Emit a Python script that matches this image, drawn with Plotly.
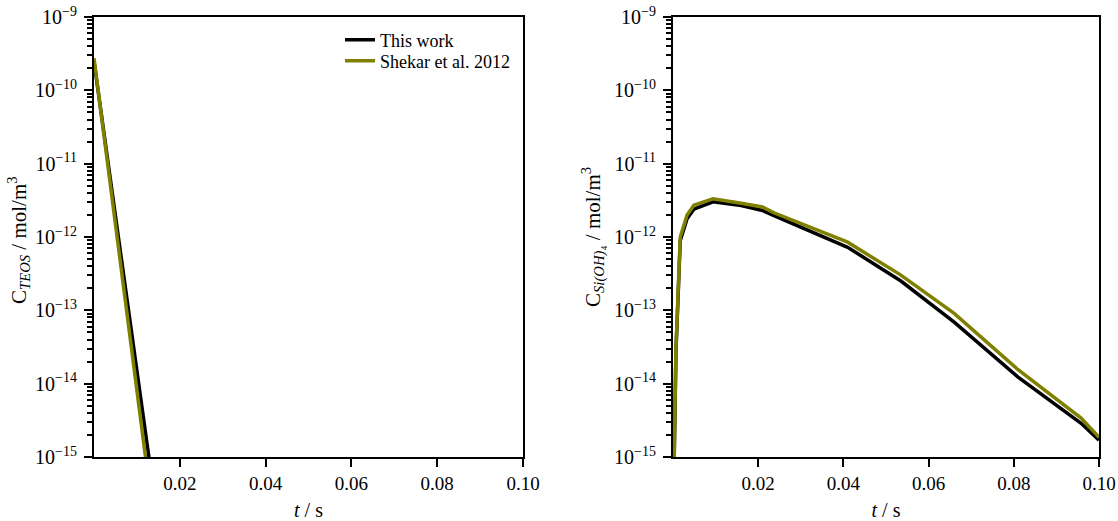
import plotly.graph_objects as go

# ---- data ----
teos_t_this = [0.0, 0.002, 0.004, 0.006, 0.008, 0.010, 0.012, 0.014]
teos_c_this = [2.5e-10, 3.6e-11, 5.1e-12, 7.4e-13, 1.05e-13, 1.5e-14, 2.2e-15, 3.1e-16]
teos_t_shekar = [0.0, 0.002, 0.004, 0.006, 0.008, 0.010, 0.012, 0.014]
teos_c_shekar = [2.75e-10, 3.4e-11, 4.3e-12, 5.2e-13, 6.5e-14, 8.1e-15, 1.0e-15, 1.25e-16]

si_t_this = [0.0002, 0.0007, 0.0017, 0.0033, 0.0049, 0.0094, 0.016, 0.021, 0.0237, 0.041,
             0.0535, 0.066, 0.081, 0.0958, 0.1]
si_c_this = [5e-16, 2.8e-14, 8.9e-13, 1.78e-12, 2.4e-12, 3.02e-12, 2.69e-12, 2.3e-12, 1.95e-12,
             7.24e-13, 2.51e-13, 6.9e-14, 1.23e-14, 2.88e-15, 1.70e-15]
si_t_shekar = [0.0002, 0.0007, 0.0017, 0.0033, 0.0049, 0.0094, 0.016, 0.021, 0.0237, 0.041,
               0.0535, 0.066, 0.081, 0.0958, 0.1]
si_c_shekar = [5e-16, 3.1e-14, 1.0e-12, 2.0e-12, 2.72e-12, 3.31e-12, 2.88e-12, 2.57e-12, 2.14e-12,
               8.5e-13, 3.02e-13, 9.1e-14, 1.55e-14, 3.39e-15, 1.86e-15]

x_ticks = [0.02, 0.04, 0.06, 0.08, 0.10]
x_ticktext = ["0.02", "0.04", "0.06", "0.08", "0.10"]
y_exps = [-15, -14, -13, -12, -11, -10, -9]

BLACK = "#000000"
OLIVE = "#808000"
FONT = "Liberation Serif"

major_vals = [10.0 ** e for e in y_exps]
major_text = ["10<sup>\u2212%d</sup>" % (-e) for e in y_exps]
minor_vals = [m * 10.0 ** e for e in y_exps[:-1] for m in range(2, 10)]
all_vals = major_vals + minor_vals
all_text = major_text + [""] * len(minor_vals)

fig = go.Figure()
fig.add_trace(go.Scatter(x=teos_t_this, y=teos_c_this, mode="lines", name="This work",
                         line=dict(color=BLACK, width=3.5), xaxis="x", yaxis="y",
                         legend="legend"))
fig.add_trace(go.Scatter(x=teos_t_shekar, y=teos_c_shekar, mode="lines", name="Shekar et al. 2012",
                         line=dict(color=OLIVE, width=3.5), xaxis="x", yaxis="y",
                         legend="legend2"))
fig.add_trace(go.Scatter(x=si_t_this, y=si_c_this, mode="lines", showlegend=False,
                         line=dict(color=BLACK, width=3.5), xaxis="x2", yaxis="y2"))
fig.add_trace(go.Scatter(x=si_t_shekar, y=si_c_shekar, mode="lines", showlegend=False,
                         line=dict(color=OLIVE, width=3.5), xaxis="x2", yaxis="y2"))
# empty traces binding the major-tick overlay axes
fig.add_trace(go.Scatter(x=[], y=[], showlegend=False, xaxis="x", yaxis="y3"))
fig.add_trace(go.Scatter(x=[], y=[], showlegend=False, xaxis="x2", yaxis="y4"))

xcommon = dict(range=[0, 0.1], tickvals=x_ticks, ticktext=x_ticktext, ticks="outside",
               ticklen=8, tickwidth=2, tickcolor=BLACK, showline=True, linewidth=2,
               linecolor=BLACK, mirror=True, showgrid=False, zeroline=False,
               ticklabelstandoff=0, automargin=False,
               tickfont=dict(family=FONT, size=19, color=BLACK),
               title=dict(text="<i>t</i> / s", font=dict(family=FONT, size=20, color=BLACK),
                          standoff=12))
ycommon = dict(type="log", range=[-15, -9], tickvals=all_vals, ticktext=all_text,
               ticks="outside", ticklen=5, tickwidth=1.8, tickcolor=BLACK, showline=True,
               linewidth=2, linecolor=BLACK, mirror=True, showgrid=False, zeroline=False,
               ticklabelstandoff=6, automargin=False,
               tickfont=dict(family=FONT, size=20, color=BLACK))
ymajor = dict(type="log", range=[-15, -9], tickvals=major_vals, ticks="outside", ticklen=9,
              tickwidth=2, tickcolor=BLACK, showticklabels=False, showline=False,
              showgrid=False, zeroline=False, side="left", automargin=False)

ydom = [1 - 457 / 521, 1 - 17 / 521]
fig.update_layout(
    width=1118, height=521,
    margin=dict(l=0, r=0, t=0, b=0, autoexpand=False),
    paper_bgcolor="white", plot_bgcolor="white",
    font=dict(family=FONT, color=BLACK),
    xaxis=dict(domain=[94 / 1118, 523 / 1118], anchor="y", **xcommon),
    yaxis=dict(domain=ydom, anchor="x", **ycommon),
    xaxis2=dict(domain=[673 / 1118, 1099 / 1118], anchor="y2", **xcommon),
    yaxis2=dict(domain=ydom, anchor="x2", **ycommon),
    yaxis3=dict(anchor="x", overlaying="y", **ymajor),
    yaxis4=dict(anchor="x2", overlaying="y2", **ymajor),
    legend=dict(x=340 / 1118, y=1 - 40 / 521, xanchor="left", yanchor="middle",
                bgcolor="rgba(0,0,0,0)", font=dict(family=FONT, size=18, color=BLACK)),
    legend2=dict(x=340 / 1118, y=1 - 61 / 521, xanchor="left", yanchor="middle",
                 bgcolor="rgba(0,0,0,0)", font=dict(family=FONT, size=18, color=BLACK)),
    showlegend=True,
    annotations=[
        dict(text="C<sub><i>TEOS</i></sub> / mol/m<sup>3</sup>", x=18 / 1118, y=1 - 240 / 521,
             xref="paper", yref="paper", textangle=-90, showarrow=False,
             font=dict(family=FONT, size=21, color=BLACK), xanchor="center", yanchor="middle"),
        dict(text="C<sub><i>Si(OH)</i>\u2084</sub> / mol/m<sup>3</sup>", x=593 / 1118,
             y=1 - 237 / 521, xref="paper", yref="paper", textangle=-90, showarrow=False,
             font=dict(family=FONT, size=21, color=BLACK), xanchor="center", yanchor="middle"),
    ],
)

fig.write_html("out.html")
